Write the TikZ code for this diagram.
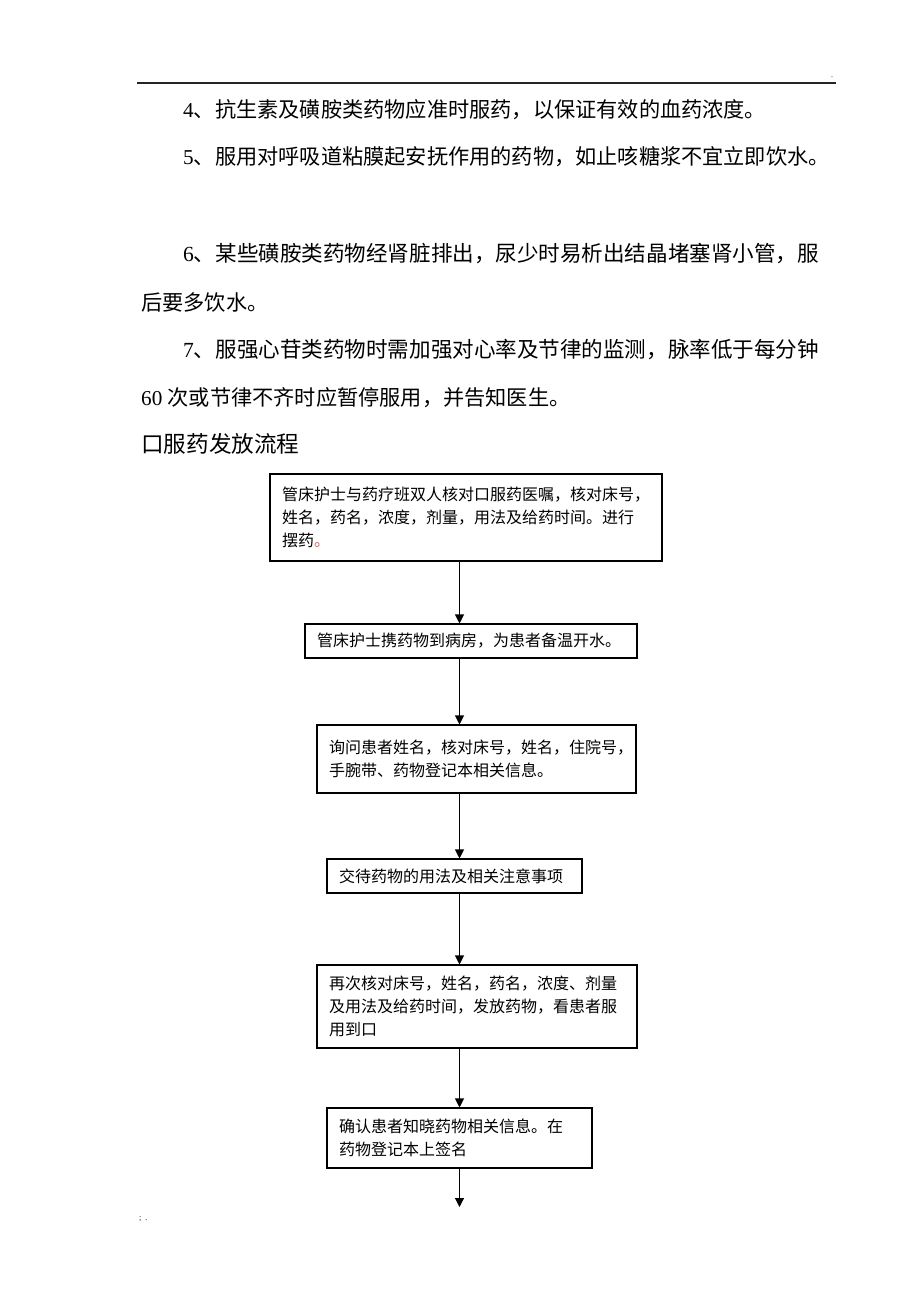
\documentclass[tikz,border=0pt]{standalone}
\usepackage{fontspec}
\setmainfont{Liberation Serif}
\newfontfamily\cjk{Noto Sans CJK SC}
\usetikzlibrary{arrows.meta}
\hfuzz=30pt
\begin{document}
\begin{tikzpicture}[x=1pt,y=-1pt,
  para/.style={anchor=west,inner sep=0pt,font=\fontsize{21.2}{25}\selectfont},
  parawide/.style={anchor=west,inner sep=0pt,font=\fontsize{21.55}{25}\selectfont},
  titletext/.style={anchor=west,inner sep=0pt,font=\cjk\fontsize{22.6}{26}\selectfont},
  flowbox/.style={draw=black,line width=1.1pt,inner xsep=12pt,inner ysep=0pt,align=left,font=\cjk\fontsize{16}{23}\selectfont},
  flowarrow/.style={draw=black,line width=1.1pt,-{Triangle[length=9pt,width=9pt]}},
  smalltext/.style={inner sep=0pt,font=\fontsize{8}{8}\selectfont}
]
\path[use as bounding box] (0,0) rectangle (920,1302);
\fill[white] (0,0) rectangle (920,1302);

% header rule and mark
\draw[line width=1.3pt,black!85] (137,83) -- (836,83);
\node[smalltext] (hdot) at (832,77) {.};

% paragraphs
\node[para] (p4) at (183,110) {4{\cjk 、抗生素及磺胺类药物应准时服药，以保证有效的血药浓度。}};
\node[para] (p5) at (183,157) {5{\cjk 、服用对呼吸道粘膜起安抚作用的药物，如止咳糖浆不宜立即饮水。}};
\node[parawide] (p6) at (183,254) {6{\cjk 、某些磺胺类药物经肾脏排出，尿少时易析出结晶堵塞肾小管，服}};
\node[para] (p6b) at (141,302) {{\cjk 后要多饮水。}};
\node[parawide] (p7) at (183,350) {7{\cjk 、服强心苷类药物时需加强对心率及节律的监测，脉率低于每分钟}};
\node[para] (p7b) at (141,398) {60 {\cjk 次或节律不齐时应暂停服用，并告知医生。}};
\node[titletext] (title) at (141,444) {口服药发放流程};

% flow boxes
\node[flowbox,text width=368pt,minimum height=87pt] (b1) at (466,517.5)
  {管床护士与药疗班双人核对口服药医嘱，核对床号，\\姓名，药名，浓度，剂量，用法及给药时间。进行\\摆药{\color[HTML]{E06060}。}};
\node[flowbox,text width=308pt,minimum height=34pt] (b2) at (471,641)
  {管床护士携药物到病房，为患者备温开水。};
\node[flowbox,text width=295pt,minimum height=68pt] (b3) at (476.5,759)
  {询问患者姓名，核对床号，姓名，住院号，\\手腕带、药物登记本相关信息。};
\node[flowbox,text width=231pt,minimum height=34pt] (b4) at (454.5,876)
  {交待药物的用法及相关注意事项};
\node[flowbox,text width=296pt,minimum height=83pt] (b5) at (477,1006.5)
  {再次核对床号，姓名，药名，浓度、剂量\\及用法及给药时间，发放药物，看患者服\\用到口};
\node[flowbox,text width=241pt,minimum height=60pt] (b6) at (459.5,1138)
  {确认患者知晓药物相关信息。在\\药物登记本上签名};

% connectors
\coordinate (ax) at (459.5,0);
\coordinate (tail) at (459.5,1207);
\draw[flowarrow] (b1.south -| ax) -- (b2.north -| ax);
\draw[flowarrow] (b2.south -| ax) -- (b3.north -| ax);
\draw[flowarrow] (b3.south -| ax) -- (b4.north -| ax);
\draw[flowarrow] (b4.south -| ax) -- (b5.north -| ax);
\draw[flowarrow] (b5.south -| ax) -- (b6.north -| ax);
\draw[flowarrow] (b6.south -| ax) -- (tail);

% footer
\node[smalltext,anchor=west] (foot) at (139,1219) {;\ \ .};
\end{tikzpicture}
\end{document}
